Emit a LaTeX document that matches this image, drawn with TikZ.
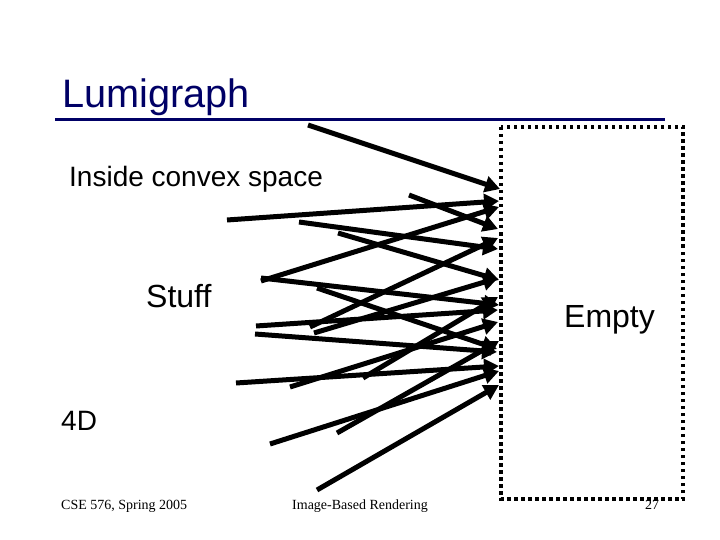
\documentclass[tikz,border=0pt]{standalone}
\usepackage{fontspec}
\setmainfont{Liberation Sans}
\newfontfamily\footfont{Liberation Serif}
\usetikzlibrary{arrows.meta}
\definecolor{titlenavy}{RGB}{0,0,102}
\tikzset{
  ray/.style={line width=5pt,-{Triangle[length=15pt,width=16pt]}},
  bodytext/.style={anchor=base west,inner sep=0pt,font=\fontsize{28}{28}\selectfont},
  bigtext/.style={anchor=base west,inner sep=0pt,font=\fontsize{32}{32}\selectfont},
  foottext/.style={anchor=base west,inner sep=0pt,font=\footfont\fontsize{14}{14}\selectfont},
}
\begin{document}
\begin{tikzpicture}[x=1pt,y=-1pt]
  \useasboundingbox (0,0) rectangle (720,540);
  \node[anchor=base west,inner sep=0pt,text=titlenavy,font=\fontsize{39.7}{40}\selectfont] (title) at (62,108) {Lumigraph};
  \coordinate (ruleL) at (55,120);
  \coordinate (ruleR) at (665,120);
  \draw[titlenavy,line width=3pt] (ruleL) -- (ruleR);
  \node[bodytext] (inside) at (69,187) {Inside convex space};
  \node[bigtext] (stuff) at (146,307) {Stuff};
  \node[bigtext] (empty) at (564,327) {Empty};
  \node[bodytext] (dim) at (61,430) {4D};
  \node[foottext] (course) at (61,509) {CSE 576, Spring 2005};
  \node[foottext] (talk) at (292,509) {Image-Based Rendering};
  % empty region
  \draw[line width=3.5pt,dash pattern=on 3.5pt off 3.5pt] (501,127) rectangle (683,499);
  \node[foottext] (page) at (645,509) {27};
  % rays
  \foreach \i/\sx/\sy/\ex/\ey in {
    1/308/125/500/189, 2/227/220/499/201, 3/409/195/498/229,
    4/299/222/498/249, 5/338/233/499/280, 6/261/281/499/207,
    7/261/278/499/305, 8/317/288/497/349, 9/310/327/498/238,
    10/314/333/498/278, 11/256/326/498/310, 12/255/334/497/352,
    13/290/387/498/322, 14/363/378/498/297, 15/236/383/499/366,
    16/337/433/499/341, 17/270/444/499/371, 18/317/490/499/385}{
    \coordinate (s\i) at (\sx,\sy);
    \coordinate (e\i) at (\ex,\ey);
    \draw[ray] (s\i) -- (e\i);
  }
\end{tikzpicture}
\end{document}
